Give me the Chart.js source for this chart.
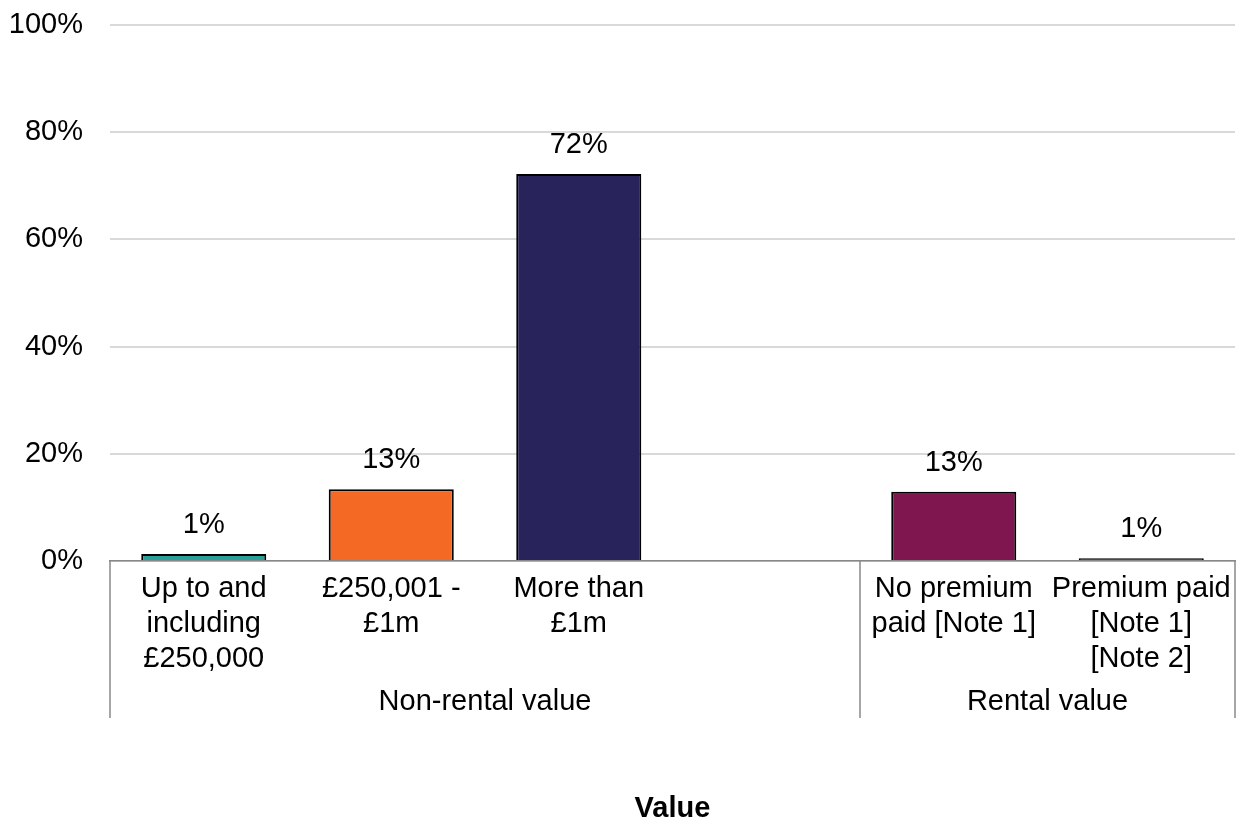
<!DOCTYPE html>
<html>
<head>
<meta charset="utf-8">
<script src="https://cdn.jsdelivr.net/npm/chart.js@4/dist/chart.umd.min.js"></script>
<style>
  html, body { margin: 0; padding: 0; background: #fff; }
  #wrap { width: 1236px; height: 823px; }
</style>
</head>
<body>
<div id="wrap"><canvas id="chartValue" width="1236" height="823"></canvas></div>
<script>
// Datos del gráfico
const categorias = [
  ['Up to and', 'including', '£250,000'],
  ['£250,001 -', '£1m'],
  ['More than', '£1m'],
  '',
  ['No premium', 'paid [Note 1]'],
  ['Premium paid', '[Note 1]', '[Note 2]']
];
const valores = [1.3, 13.4, 72.2, null, 12.9, 0.5];
const etiquetas = ['1%', '13%', '72%', '', '13%', '1%'];
const colores = ['#28A197', '#F46A25', '#28235B', '#ffffff', '#801650', '#222222'];
const grupos = ['Non-rental value', 'Rental value'];
const gruposRango = [[0, 3], [4, 5]]; // índices de categoría por grupo
const ticksY = [0, 20, 40, 60, 80, 100];

const FONT = '"Liberation Sans", Arial, sans-serif';
const TAM = 29;

// Etiquetas encima de las barras
const etiquetasPlugin = {
  id: 'etiquetas',
  afterDatasetsDraw(chart) {
    const ctx = chart.ctx;
    const meta = chart.getDatasetMeta(0);
    ctx.save();
    ctx.font = TAM + 'px ' + FONT;
    ctx.fillStyle = '#000';
    ctx.textAlign = 'center';
    ctx.textBaseline = 'middle';
    meta.data.forEach((bar, i) => {
      if (valores[i] == null) return;
      ctx.fillText(etiquetas[i], bar.x, bar.y - 29);
    });
    ctx.restore();
  }
};

// Separadores y grupos del eje X
const gruposPlugin = {
  id: 'grupos',
  afterDraw(chart) {
    const ctx = chart.ctx;
    const x = chart.scales.x;
    const y0 = chart.chartArea.bottom;
    const y1 = y0 + 157;
    ctx.save();
    ctx.strokeStyle = '#888888';
    ctx.lineWidth = 1.5;
    const bordes = [];
    gruposRango.forEach(([a, b]) => {
      bordes.push(x.getPixelForValue(a - 0.5), x.getPixelForValue(b + 0.5));
    });
    [...new Set(bordes.map(v => Math.round(v)))].forEach(px => {
      ctx.beginPath();
      ctx.moveTo(px, y0);
      ctx.lineTo(px, y1);
      ctx.stroke();
    });
    ctx.font = TAM + 'px ' + FONT;
    ctx.fillStyle = '#000';
    ctx.textAlign = 'center';
    ctx.textBaseline = 'middle';
    gruposRango.forEach(([a, b], i) => {
      const cx = (x.getPixelForValue(a - 0.5) + x.getPixelForValue(b + 0.5)) / 2;
      ctx.fillText(grupos[i], cx, y0 + 141);
    });
    ctx.restore();
  }
};

new Chart(document.getElementById('chartValue').getContext('2d'), {
  type: 'bar',
  data: {
    labels: categorias,
    datasets: [{
      data: valores,
      backgroundColor: colores,
      borderColor: '#000',
      borderWidth: 2,
      borderSkipped: 'bottom',
      barPercentage: 0.667,
      categoryPercentage: 1
    }]
  },
  options: {
    responsive: false,
    animation: false,
    devicePixelRatio: 1,
    layout: { padding: { top: 25, right: 1, left: 0, bottom: 0 } },
    plugins: { legend: { display: false }, tooltip: { enabled: false } },
    scales: {
      y: {
        min: 0, max: 100,
        afterBuildTicks: s => { s.ticks = ticksY.map(v => ({ value: v })); },
        afterFit: s => { s.width = 110; s.paddingTop = 0; s.paddingBottom = 0; },
        grid: { color: '#d9d9d9', lineWidth: 2, drawTicks: false },
        border: { display: false },
        ticks: { padding: 27, color: '#000', font: { family: FONT, size: TAM }, callback: v => v + '%' }
      },
      x: {
        afterFit: s => { s.height = 262; s.paddingLeft = 0; s.paddingRight = 0; },
        grid: { display: false, drawTicks: false },
        border: { display: true, color: '#888888', width: 1.5 },
        ticks: {
          autoSkip: false, maxRotation: 0, minRotation: 0, padding: 11,
          color: '#000', font: { family: FONT, size: TAM, lineHeight: 1.2 }
        },
        title: {
          display: true, text: 'Value', color: '#000',
          font: { family: FONT, size: TAM, weight: 'bold', lineHeight: 1 },
          padding: { top: 0, bottom: 0 }
        }
      }
    }
  },
  plugins: [etiquetasPlugin, gruposPlugin]
});
</script>
</body>
</html>
